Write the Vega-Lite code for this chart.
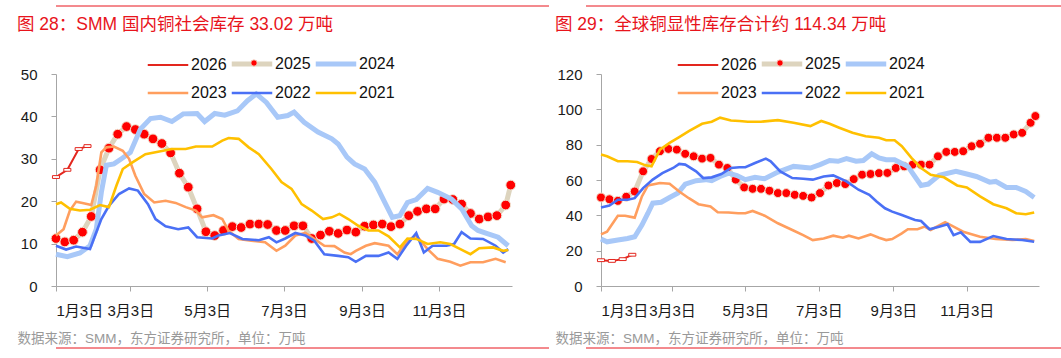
{
  "$schema": "https://vega.github.io/schema/vega-lite/v6.json",
  "background": "white",
  "padding": {"left": 17, "top": 5, "right": 0, "bottom": 0},
  "config": {
    "view": {"stroke": null},
    "font": "Liberation Sans, Noto Sans CJK SC"
  },
  "datasets": {
    "L": [
      {"s":"2026","d":0,"v":25.7},{"s":"2026","d":9,"v":27.4},{"s":"2026","d":18,"v":32.3},{"s":"2026","d":25,"v":33.0},
      {"s":"2025","d":0,"v":11.2},{"s":"2025","d":7,"v":10.4},{"s":"2025","d":14,"v":10.8},{"s":"2025","d":21,"v":12.7},{"s":"2025","d":28,"v":16.4},{"s":"2025","d":35,"v":27.4},{"s":"2025","d":42,"v":32.5},{"s":"2025","d":49,"v":35.8},{"s":"2025","d":56,"v":37.6},{"s":"2025","d":63,"v":36.9},
      {"s":"2025","d":70,"v":35.8},{"s":"2025","d":77,"v":34.7},{"s":"2025","d":84,"v":33.6},{"s":"2025","d":91,"v":31.4},{"s":"2025","d":98,"v":26.6},{"s":"2025","d":105,"v":23.3},{"s":"2025","d":112,"v":18.2},{"s":"2025","d":119,"v":12.8},{"s":"2025","d":126,"v":11.9},{"s":"2025","d":133,"v":13.1},
      {"s":"2025","d":140,"v":14.0},{"s":"2025","d":147,"v":13.8},{"s":"2025","d":154,"v":14.6},{"s":"2025","d":161,"v":14.6},{"s":"2025","d":168,"v":14.5},{"s":"2025","d":175,"v":13.1},{"s":"2025","d":182,"v":13.1},{"s":"2025","d":189,"v":14.2},{"s":"2025","d":196,"v":14.2},{"s":"2025","d":203,"v":11.2},
      {"s":"2025","d":210,"v":12.0},{"s":"2025","d":217,"v":12.9},{"s":"2025","d":224,"v":12.4},{"s":"2025","d":231,"v":13.2},{"s":"2025","d":238,"v":12.7},{"s":"2025","d":245,"v":14.1},{"s":"2025","d":252,"v":14.4},{"s":"2025","d":259,"v":14.6},{"s":"2025","d":266,"v":14.0},{"s":"2025","d":273,"v":14.6},
      {"s":"2025","d":280,"v":16.6},{"s":"2025","d":287,"v":17.6},{"s":"2025","d":294,"v":18.2},{"s":"2025","d":301,"v":18.2},{"s":"2025","d":308,"v":20.5},{"s":"2025","d":315,"v":20.4},{"s":"2025","d":322,"v":19.3},{"s":"2025","d":329,"v":17.1},{"s":"2025","d":336,"v":15.8},{"s":"2025","d":343,"v":16.3},
      {"s":"2025","d":350,"v":16.6},{"s":"2025","d":357,"v":19.1},{"s":"2025","d":361,"v":23.8},
      {"s":"2024","d":0,"v":7.5},{"s":"2024","d":9,"v":6.9},{"s":"2024","d":19,"v":7.8},{"s":"2024","d":27,"v":9.5},{"s":"2024","d":32,"v":13.4},{"s":"2024","d":36,"v":22.1},{"s":"2024","d":40,"v":28.5},{"s":"2024","d":46,"v":28.8},{"s":"2024","d":52,"v":30.0},{"s":"2024","d":59,"v":31.5},
      {"s":"2024","d":67,"v":37.0},{"s":"2024","d":75,"v":39.5},{"s":"2024","d":83,"v":39.8},{"s":"2024","d":92,"v":38.8},{"s":"2024","d":101,"v":40.6},{"s":"2024","d":112,"v":40.7},{"s":"2024","d":118,"v":38.8},{"s":"2024","d":126,"v":40.7},{"s":"2024","d":134,"v":40.3},{"s":"2024","d":144,"v":41.3},
      {"s":"2024","d":152,"v":43.7},{"s":"2024","d":159,"v":45.3},{"s":"2024","d":167,"v":43.3},{"s":"2024","d":176,"v":39.8},{"s":"2024","d":184,"v":40.2},{"s":"2024","d":189,"v":41.0},{"s":"2024","d":197,"v":38.6},{"s":"2024","d":208,"v":36.3},{"s":"2024","d":219,"v":34.7},{"s":"2024","d":224,"v":33.5},
      {"s":"2024","d":231,"v":30.4},{"s":"2024","d":237,"v":28.8},{"s":"2024","d":245,"v":27.6},{"s":"2024","d":253,"v":24.5},{"s":"2024","d":261,"v":19.7},{"s":"2024","d":267,"v":16.2},{"s":"2024","d":273,"v":16.6},{"s":"2024","d":279,"v":19.7},{"s":"2024","d":286,"v":20.4},{"s":"2024","d":295,"v":23.0},
      {"s":"2024","d":303,"v":22.1},{"s":"2024","d":314,"v":20.5},{"s":"2024","d":322,"v":18.2},{"s":"2024","d":330,"v":14.2},{"s":"2024","d":335,"v":13.1},{"s":"2024","d":343,"v":12.3},{"s":"2024","d":351,"v":11.5},{"s":"2024","d":359,"v":9.5},
      {"s":"2023","d":0,"v":11.9},{"s":"2023","d":6,"v":13.4},{"s":"2023","d":11,"v":17.8},{"s":"2023","d":16,"v":19.9},{"s":"2023","d":21,"v":19.6},{"s":"2023","d":28,"v":19.1},{"s":"2023","d":32,"v":23.7},{"s":"2023","d":36,"v":31.5},{"s":"2023","d":40,"v":32.7},{"s":"2023","d":46,"v":32.9},
      {"s":"2023","d":53,"v":31.9},{"s":"2023","d":58,"v":30.0},{"s":"2023","d":63,"v":26.0},{"s":"2023","d":70,"v":21.7},{"s":"2023","d":78,"v":19.7},{"s":"2023","d":87,"v":20.1},{"s":"2023","d":95,"v":19.6},{"s":"2023","d":103,"v":18.6},{"s":"2023","d":111,"v":17.8},{"s":"2023","d":116,"v":16.2},
      {"s":"2023","d":125,"v":16.7},{"s":"2023","d":132,"v":15.8},{"s":"2023","d":137,"v":13.0},{"s":"2023","d":145,"v":11.1},{"s":"2023","d":155,"v":10.7},{"s":"2023","d":166,"v":10.3},{"s":"2023","d":175,"v":8.3},{"s":"2023","d":182,"v":9.5},{"s":"2023","d":190,"v":11.9},{"s":"2023","d":198,"v":12.5},
      {"s":"2023","d":205,"v":11.1},{"s":"2023","d":213,"v":9.5},{"s":"2023","d":221,"v":9.4},{"s":"2023","d":229,"v":7.9},{"s":"2023","d":234,"v":7.5},{"s":"2023","d":238,"v":8.3},{"s":"2023","d":246,"v":9.5},{"s":"2023","d":253,"v":10.1},{"s":"2023","d":264,"v":9.5},{"s":"2023","d":271,"v":7.5},
      {"s":"2023","d":279,"v":10.7},{"s":"2023","d":286,"v":11.9},{"s":"2023","d":295,"v":8.7},{"s":"2023","d":303,"v":6.4},{"s":"2023","d":313,"v":5.7},{"s":"2023","d":321,"v":4.8},{"s":"2023","d":329,"v":5.6},{"s":"2023","d":339,"v":5.6},{"s":"2023","d":349,"v":6.4},{"s":"2023","d":357,"v":5.6},
      {"s":"2022","d":0,"v":9.5},{"s":"2022","d":8,"v":8.6},{"s":"2022","d":16,"v":9.3},{"s":"2022","d":27,"v":8.7},{"s":"2022","d":31,"v":11.9},{"s":"2022","d":36,"v":15.8},{"s":"2022","d":42,"v":18.9},{"s":"2022","d":50,"v":21.7},{"s":"2022","d":58,"v":23.0},{"s":"2022","d":65,"v":22.5},
      {"s":"2022","d":73,"v":19.3},{"s":"2022","d":79,"v":15.8},{"s":"2022","d":87,"v":14.1},{"s":"2022","d":97,"v":13.4},{"s":"2022","d":105,"v":13.8},{"s":"2022","d":112,"v":11.5},{"s":"2022","d":124,"v":11.2},{"s":"2022","d":129,"v":11.9},{"s":"2022","d":138,"v":12.5},{"s":"2022","d":148,"v":11.1},
      {"s":"2022","d":161,"v":10.8},{"s":"2022","d":169,"v":11.5},{"s":"2022","d":175,"v":10.3},{"s":"2022","d":182,"v":11.2},{"s":"2022","d":190,"v":12.5},{"s":"2022","d":198,"v":11.9},{"s":"2022","d":205,"v":10.7},{"s":"2022","d":213,"v":7.5},{"s":"2022","d":224,"v":7.1},{"s":"2022","d":232,"v":6.8},
      {"s":"2022","d":238,"v":5.7},{"s":"2022","d":246,"v":7.1},{"s":"2022","d":256,"v":7.1},{"s":"2022","d":264,"v":7.9},{"s":"2022","d":271,"v":6.4},{"s":"2022","d":278,"v":9.5},{"s":"2022","d":286,"v":12.5},{"s":"2022","d":292,"v":7.9},{"s":"2022","d":299,"v":9.5},{"s":"2022","d":310,"v":9.5},
      {"s":"2022","d":316,"v":9.9},{"s":"2022","d":322,"v":12.7},{"s":"2022","d":329,"v":11.2},{"s":"2022","d":339,"v":11.1},{"s":"2022","d":349,"v":9.5},{"s":"2022","d":355,"v":7.9},{"s":"2022","d":359,"v":8.7},
      {"s":"2021","d":0,"v":19.3},{"s":"2021","d":4,"v":19.7},{"s":"2021","d":11,"v":18.2},{"s":"2021","d":19,"v":17.8},{"s":"2021","d":27,"v":18.0},{"s":"2021","d":35,"v":19.1},{"s":"2021","d":42,"v":18.6},{"s":"2021","d":48,"v":23.7},{"s":"2021","d":53,"v":27.6},{"s":"2021","d":61,"v":29.2},
      {"s":"2021","d":71,"v":31.1},{"s":"2021","d":82,"v":31.7},{"s":"2021","d":92,"v":32.3},{"s":"2021","d":103,"v":32.3},{"s":"2021","d":111,"v":32.9},{"s":"2021","d":124,"v":32.9},{"s":"2021","d":132,"v":34.3},{"s":"2021","d":137,"v":34.9},{"s":"2021","d":145,"v":34.7},{"s":"2021","d":153,"v":32.7},
      {"s":"2021","d":161,"v":31.1},{"s":"2021","d":171,"v":27.6},{"s":"2021","d":179,"v":24.5},{"s":"2021","d":187,"v":22.9},{"s":"2021","d":195,"v":19.3},{"s":"2021","d":203,"v":17.8},{"s":"2021","d":212,"v":15.8},{"s":"2021","d":219,"v":16.2},{"s":"2021","d":225,"v":17.0},{"s":"2021","d":232,"v":15.8},
      {"s":"2021","d":240,"v":14.2},{"s":"2021","d":248,"v":13.1},{"s":"2021","d":256,"v":13.1},{"s":"2021","d":264,"v":11.7},{"s":"2021","d":273,"v":9.1},{"s":"2021","d":279,"v":11.2},{"s":"2021","d":286,"v":11.1},{"s":"2021","d":295,"v":9.9},{"s":"2021","d":305,"v":10.3},{"s":"2021","d":313,"v":9.9},
      {"s":"2021","d":321,"v":8.7},{"s":"2021","d":329,"v":7.5},{"s":"2021","d":336,"v":8.9},{"s":"2021","d":347,"v":9.1},{"s":"2021","d":355,"v":8.3},{"s":"2021","d":359,"v":8.5}
    ],
    "R": [
      {"s":"2026","d":0,"v":14.6},{"s":"2026","d":9,"v":14.2},{"s":"2026","d":18,"v":15.2},{"s":"2026","d":26,"v":17.7},
      {"s":"2025","d":0,"v":50.1},{"s":"2025","d":7,"v":49.1},{"s":"2025","d":14,"v":48.2},{"s":"2025","d":21,"v":50.5},{"s":"2025","d":28,"v":53.5},{"s":"2025","d":35,"v":64.9},{"s":"2025","d":42,"v":71.9},{"s":"2025","d":49,"v":76.3},{"s":"2025","d":56,"v":77.6},{"s":"2025","d":63,"v":77.2},
      {"s":"2025","d":70,"v":74.8},{"s":"2025","d":77,"v":73.4},{"s":"2025","d":84,"v":72.1},{"s":"2025","d":91,"v":72.5},{"s":"2025","d":98,"v":68.7},{"s":"2025","d":105,"v":66.8},{"s":"2025","d":112,"v":60.2},{"s":"2025","d":119,"v":55.8},{"s":"2025","d":126,"v":55.0},{"s":"2025","d":133,"v":55.0},
      {"s":"2025","d":140,"v":53.9},{"s":"2025","d":147,"v":52.6},{"s":"2025","d":154,"v":52.6},{"s":"2025","d":161,"v":51.6},{"s":"2025","d":168,"v":51.0},{"s":"2025","d":175,"v":50.1},{"s":"2025","d":182,"v":52.6},{"s":"2025","d":189,"v":56.9},{"s":"2025","d":196,"v":58.3},{"s":"2025","d":203,"v":57.7},
      {"s":"2025","d":210,"v":60.5},{"s":"2025","d":217,"v":63.0},{"s":"2025","d":224,"v":63.4},{"s":"2025","d":231,"v":63.9},{"s":"2025","d":238,"v":64.0},{"s":"2025","d":245,"v":66.8},{"s":"2025","d":252,"v":67.7},{"s":"2025","d":259,"v":68.7},{"s":"2025","d":266,"v":68.7},{"s":"2025","d":273,"v":68.7},
      {"s":"2025","d":280,"v":73.4},{"s":"2025","d":287,"v":75.9},{"s":"2025","d":294,"v":75.9},{"s":"2025","d":301,"v":76.3},{"s":"2025","d":308,"v":79.1},{"s":"2025","d":315,"v":80.5},{"s":"2025","d":322,"v":83.9},{"s":"2025","d":329,"v":83.9},{"s":"2025","d":336,"v":83.9},{"s":"2025","d":343,"v":85.8},
      {"s":"2025","d":350,"v":86.7},{"s":"2025","d":357,"v":92.4},{"s":"2025","d":361,"v":96.2},
      {"s":"2024","d":0,"v":26.6},{"s":"2024","d":5,"v":25.0},{"s":"2024","d":14,"v":26.0},{"s":"2024","d":22,"v":26.9},{"s":"2024","d":28,"v":27.9},{"s":"2024","d":34,"v":34.5},{"s":"2024","d":39,"v":41.2},{"s":"2024","d":43,"v":46.9},{"s":"2024","d":50,"v":47.4},{"s":"2024","d":57,"v":50.1},
      {"s":"2024","d":64,"v":52.6},{"s":"2024","d":70,"v":57.7},{"s":"2024","d":79,"v":59.6},{"s":"2024","d":87,"v":60.2},{"s":"2024","d":92,"v":59.6},{"s":"2024","d":99,"v":62.0},{"s":"2024","d":106,"v":63.9},{"s":"2024","d":113,"v":62.5},{"s":"2024","d":120,"v":60.2},{"s":"2024","d":128,"v":61.5},
      {"s":"2024","d":136,"v":60.7},{"s":"2024","d":147,"v":64.5},{"s":"2024","d":160,"v":67.7},{"s":"2024","d":174,"v":66.8},{"s":"2024","d":182,"v":68.7},{"s":"2024","d":190,"v":71.0},{"s":"2024","d":197,"v":70.6},{"s":"2024","d":204,"v":72.1},{"s":"2024","d":212,"v":70.6},{"s":"2024","d":218,"v":71.0},
      {"s":"2024","d":225,"v":74.8},{"s":"2024","d":231,"v":72.5},{"s":"2024","d":237,"v":71.5},{"s":"2024","d":244,"v":71.5},{"s":"2024","d":255,"v":67.7},{"s":"2024","d":266,"v":56.9},{"s":"2024","d":272,"v":57.7},{"s":"2024","d":281,"v":62.6},{"s":"2024","d":295,"v":64.9},{"s":"2024","d":304,"v":63.4},
      {"s":"2024","d":312,"v":62.0},{"s":"2024","d":323,"v":58.8},{"s":"2024","d":328,"v":59.2},{"s":"2024","d":337,"v":55.8},{"s":"2024","d":345,"v":55.8},{"s":"2024","d":353,"v":53.5},{"s":"2024","d":360,"v":50.1},
      {"s":"2023","d":0,"v":29.2},{"s":"2023","d":5,"v":30.7},{"s":"2023","d":14,"v":39.8},{"s":"2023","d":20,"v":39.8},{"s":"2023","d":28,"v":38.7},{"s":"2023","d":34,"v":50.7},{"s":"2023","d":39,"v":56.9},{"s":"2023","d":49,"v":58.3},{"s":"2023","d":57,"v":57.9},{"s":"2023","d":65,"v":53.5},
      {"s":"2023","d":73,"v":49.7},{"s":"2023","d":81,"v":46.3},{"s":"2023","d":91,"v":45.0},{"s":"2023","d":97,"v":41.7},{"s":"2023","d":106,"v":41.6},{"s":"2023","d":114,"v":41.2},{"s":"2023","d":120,"v":41.2},{"s":"2023","d":126,"v":42.5},{"s":"2023","d":136,"v":39.8},{"s":"2023","d":147,"v":35.5},
      {"s":"2023","d":159,"v":31.7},{"s":"2023","d":168,"v":28.8},{"s":"2023","d":176,"v":26.0},{"s":"2023","d":185,"v":26.9},{"s":"2023","d":193,"v":28.5},{"s":"2023","d":201,"v":27.3},{"s":"2023","d":206,"v":28.5},{"s":"2023","d":214,"v":26.9},{"s":"2023","d":224,"v":29.2},{"s":"2023","d":231,"v":27.3},
      {"s":"2023","d":237,"v":26.0},{"s":"2023","d":242,"v":26.6},{"s":"2023","d":250,"v":29.8},{"s":"2023","d":255,"v":32.1},{"s":"2023","d":263,"v":32.1},{"s":"2023","d":269,"v":33.6},{"s":"2023","d":274,"v":31.7},{"s":"2023","d":286,"v":36.1},{"s":"2023","d":293,"v":33.6},{"s":"2023","d":301,"v":30.7},
      {"s":"2023","d":315,"v":27.9},{"s":"2023","d":328,"v":26.6},{"s":"2023","d":342,"v":26.0},{"s":"2023","d":353,"v":26.6},{"s":"2023","d":360,"v":25.4},
      {"s":"2022","d":0,"v":44.4},{"s":"2022","d":7,"v":45.5},{"s":"2022","d":14,"v":48.8},{"s":"2022","d":22,"v":48.8},{"s":"2022","d":28,"v":49.7},{"s":"2022","d":35,"v":55.4},{"s":"2022","d":43,"v":60.2},{"s":"2022","d":51,"v":63.9},{"s":"2022","d":60,"v":66.8},{"s":"2022","d":65,"v":69.1},
      {"s":"2022","d":70,"v":68.7},{"s":"2022","d":79,"v":64.9},{"s":"2022","d":85,"v":61.1},{"s":"2022","d":92,"v":61.5},{"s":"2022","d":100,"v":63.4},{"s":"2022","d":108,"v":66.8},{"s":"2022","d":115,"v":67.2},{"s":"2022","d":120,"v":67.2},{"s":"2022","d":128,"v":69.6},{"s":"2022","d":137,"v":72.1},
      {"s":"2022","d":141,"v":70.6},{"s":"2022","d":149,"v":64.9},{"s":"2022","d":159,"v":61.1},{"s":"2022","d":168,"v":60.7},{"s":"2022","d":176,"v":60.2},{"s":"2022","d":185,"v":62.0},{"s":"2022","d":193,"v":62.6},{"s":"2022","d":204,"v":59.2},{"s":"2022","d":214,"v":54.5},{"s":"2022","d":223,"v":51.6},
      {"s":"2022","d":229,"v":47.8},{"s":"2022","d":236,"v":44.0},{"s":"2022","d":242,"v":42.1},{"s":"2022","d":250,"v":40.2},{"s":"2022","d":261,"v":37.4},{"s":"2022","d":266,"v":36.8},{"s":"2022","d":273,"v":32.1},{"s":"2022","d":281,"v":33.6},{"s":"2022","d":288,"v":34.9},{"s":"2022","d":293,"v":28.8},
      {"s":"2022","d":299,"v":30.4},{"s":"2022","d":307,"v":25.0},{"s":"2022","d":315,"v":25.0},{"s":"2022","d":326,"v":28.3},{"s":"2022","d":337,"v":26.6},{"s":"2022","d":350,"v":26.0},{"s":"2022","d":360,"v":25.0},
      {"s":"2021","d":0,"v":74.4},{"s":"2021","d":5,"v":73.4},{"s":"2021","d":14,"v":70.6},{"s":"2021","d":22,"v":70.6},{"s":"2021","d":30,"v":70.2},{"s":"2021","d":37,"v":68.3},{"s":"2021","d":42,"v":67.7},{"s":"2021","d":49,"v":77.2},{"s":"2021","d":57,"v":81.0},{"s":"2021","d":65,"v":84.3},
      {"s":"2021","d":73,"v":87.7},{"s":"2021","d":84,"v":91.8},{"s":"2021","d":92,"v":93.0},{"s":"2021","d":99,"v":95.3},{"s":"2021","d":108,"v":93.7},{"s":"2021","d":115,"v":93.4},{"s":"2021","d":122,"v":93.0},{"s":"2021","d":133,"v":93.0},{"s":"2021","d":147,"v":93.9},{"s":"2021","d":160,"v":92.4},
      {"s":"2021","d":174,"v":90.5},{"s":"2021","d":183,"v":93.4},{"s":"2021","d":190,"v":91.8},{"s":"2021","d":198,"v":89.6},{"s":"2021","d":209,"v":86.7},{"s":"2021","d":220,"v":84.8},{"s":"2021","d":231,"v":83.9},{"s":"2021","d":237,"v":82.5},{"s":"2021","d":244,"v":82.5},{"s":"2021","d":250,"v":79.1},
      {"s":"2021","d":258,"v":72.5},{"s":"2021","d":266,"v":66.8},{"s":"2021","d":274,"v":63.0},{"s":"2021","d":285,"v":61.5},{"s":"2021","d":296,"v":56.9},{"s":"2021","d":304,"v":55.8},{"s":"2021","d":315,"v":50.7},{"s":"2021","d":326,"v":46.3},{"s":"2021","d":337,"v":44.0},{"s":"2021","d":345,"v":41.2},
      {"s":"2021","d":353,"v":40.6},{"s":"2021","d":360,"v":41.6}
    ]
  },
  "vconcat": [
    {
      "hconcat": [
        {"width": 493, "height": 7, "data": {"values": [{}]}, "mark": {"type": "rule", "color": "#E8141C", "strokeWidth": 1}, "encoding": {"y": {"datum": 1, "type": "quantitative", "scale": {"domain": [0, 1]}, "axis": null}}},
        {"width": 502, "height": 7, "data": {"values": [{}]}, "mark": {"type": "rule", "color": "#E8141C", "strokeWidth": 1}, "encoding": {"y": {"datum": 1, "type": "quantitative", "scale": {"domain": [0, 1]}, "axis": null}}}
      ],
      "spacing": 35
    },
    {
      "spacing": 34,
      "resolve": {"scale": {"color": "independent", "fill": "independent"}, "legend": {"color": "independent", "fill": "independent"}},
      "hconcat": [
        {
          "width": 456,
          "height": 212,
          "data": {"name": "L"},
          "title": {"text": "图 28：SMM 国内铜社会库存 33.02 万吨", "anchor": "start", "frame": "group", "dx": -39, "offset": 23, "fontSize": 17.5, "fontWeight": "normal", "color": "#E8141C", "font": "Liberation Sans, Noto Sans CJK SC"},
          "encoding": {
            "x": {"field": "d", "type": "quantitative", "scale": {"domain": [0, 362], "nice": false, "zero": false},
              "axis": {"values": [0, 59, 120, 181, 243, 304], "grid": false, "domainColor": "#A6A6A6", "tickColor": "#A6A6A6", "tickSize": 5, "labelFontSize": 15, "labelColor": "#1A1A1A", "labelPadding": 12,
                "labelExpr": "datum.value == 0 ? '1月3日' : datum.value == 59 ? '3月3日' : datum.value == 120 ? '5月3日' : datum.value == 181 ? '7月3日' : datum.value == 243 ? '9月3日' : '11月3日'",
                "title": "数据来源：SMM，东方证券研究所，单位：万吨", "titleFontSize": 13.5, "titleFontWeight": "normal", "titleColor": "#999999", "titleAnchor": "start", "titleAlign": "left", "titleX": -39, "titlePadding": 13}},
            "y": {"field": "v", "type": "quantitative", "scale": {"domain": [0, 50], "nice": false},
              "axis": {"values": [0, 10, 20, 30, 40, 50], "grid": false, "title": null, "domainColor": "#A6A6A6", "tickColor": "#A6A6A6", "tickSize": 5, "labelFontSize": 15, "labelColor": "#1A1A1A", "labelPadding": 14}},
            "color": {"field": "s", "type": "nominal",
              "scale": {"domain": ["2026", "2025", "2024", "2023", "2022", "2021"], "range": ["#E3261E", "#DDD4BE", "#A8C8F8", "#FF9E5E", "#4A70F5", "#FFC000"]},
              "legend": {"title": null, "orient": "none", "legendX": 93, "legendY": -18, "direction": "horizontal", "columns": 3, "symbolType": "stroke", "symbolSize": 1640, "symbolOffset": 11, "labelFontSize": 16, "labelColor": "#111111", "labelOffset": 15, "columnPadding": -6, "rowPadding": 11, "padding": 0,
                "encode": {"symbols": {"update": {"strokeWidth": {"signal": "datum.value == '2025' || datum.value == '2024' ? 5 : (datum.value == '2026' ? 2 : 2.6)"}}}}}}
          },
          "layer": [
            {"transform": [{"filter": "datum.s == '2026'"}], "mark": {"type": "line", "strokeWidth": 2}},
            {"transform": [{"filter": "datum.s == '2026'"}], "mark": {"type": "point", "shape": "M-1,-0.4H1V0.4H-1Z", "size": 50, "filled": true, "stroke": "#E3261E", "strokeWidth": 1, "opacity": 1}, "encoding": {"color": {"value": "#FFFFFF"}}},
            {"transform": [{"filter": "datum.s == '2025'"}], "mark": {"type": "line", "strokeWidth": 5}},
            {"transform": [{"filter": "datum.s == '2025'"}], "mark": {"type": "point", "shape": "circle", "size": 95, "filled": true, "stroke": "#F2E2CF", "strokeWidth": 1, "opacity": 1},
              "encoding": {"fill": {"field": "s", "type": "nominal", "scale": {"domain": ["2025"], "range": ["#FF0000"]},
                "legend": {"title": null, "orient": "none", "legendX": 194, "legendY": -15, "symbolType": "circle", "symbolSize": 40, "symbolStrokeColor": "#F2E2CF", "symbolStrokeWidth": 0.8, "labelFontSize": 1, "labelOpacity": 0, "labelOffset": 0, "padding": 0}}}},
            {"transform": [{"filter": "datum.s == '2024'"}], "mark": {"type": "line", "strokeWidth": 5}},
            {"transform": [{"filter": "datum.s == '2023' || datum.s == '2022' || datum.s == '2021'"}], "mark": {"type": "line", "strokeWidth": 2.6}}
          ]
        },
        {
          "width": 438,
          "height": 212,
          "data": {"name": "R"},
          "title": {"text": "图 29：全球铜显性库存合计约 114.34 万吨", "anchor": "start", "frame": "group", "dx": -46, "offset": 23, "fontSize": 17.5, "fontWeight": "normal", "color": "#E8141C", "font": "Liberation Sans, Noto Sans CJK SC"},
          "encoding": {
            "x": {"field": "d", "type": "quantitative", "scale": {"domain": [0, 364], "nice": false, "zero": false},
              "axis": {"values": [0, 59, 120, 181, 243, 304], "grid": false, "domainColor": "#A6A6A6", "tickColor": "#A6A6A6", "tickSize": 5, "labelFontSize": 15, "labelColor": "#1A1A1A", "labelPadding": 12,
                "labelExpr": "datum.value == 0 ? '1月3日' : datum.value == 59 ? '3月3日' : datum.value == 120 ? '5月3日' : datum.value == 181 ? '7月3日' : datum.value == 243 ? '9月3日' : '11月3日'",
                "title": "数据来源：SMM，东方证券研究所，单位：万吨", "titleFontSize": 13.5, "titleFontWeight": "normal", "titleColor": "#999999", "titleAnchor": "start", "titleAlign": "left", "titleX": -46, "titlePadding": 13}},
            "y": {"field": "v", "type": "quantitative", "scale": {"domain": [0, 120], "nice": false},
              "axis": {"values": [0, 20, 40, 60, 80, 100, 120], "grid": false, "title": null, "domainColor": "#A6A6A6", "tickColor": "#A6A6A6", "tickSize": 5, "labelFontSize": 15, "labelColor": "#1A1A1A", "labelPadding": 14}},
            "color": {"field": "s", "type": "nominal",
              "scale": {"domain": ["2026", "2025", "2024", "2023", "2022", "2021"], "range": ["#E3261E", "#DDD4BE", "#A8C8F8", "#FF9E5E", "#4A70F5", "#FFC000"]},
              "legend": {"title": null, "orient": "none", "legendX": 78, "legendY": -18, "direction": "horizontal", "columns": 3, "symbolType": "stroke", "symbolSize": 1640, "symbolOffset": 11, "labelFontSize": 16, "labelColor": "#111111", "labelOffset": 15, "columnPadding": -6, "rowPadding": 11, "padding": 0,
                "encode": {"symbols": {"update": {"strokeWidth": {"signal": "datum.value == '2025' || datum.value == '2024' ? 5 : (datum.value == '2026' ? 2 : 2.6)"}}}}}}
          },
          "layer": [
            {"transform": [{"filter": "datum.s == '2026'"}], "mark": {"type": "line", "strokeWidth": 2}},
            {"transform": [{"filter": "datum.s == '2026'"}], "mark": {"type": "point", "shape": "M-1,-0.4H1V0.4H-1Z", "size": 50, "filled": true, "stroke": "#E3261E", "strokeWidth": 1, "opacity": 1}, "encoding": {"color": {"value": "#FFFFFF"}}},
            {"transform": [{"filter": "datum.s == '2025'"}], "mark": {"type": "line", "strokeWidth": 5}},
            {"transform": [{"filter": "datum.s == '2025'"}], "mark": {"type": "point", "shape": "circle", "size": 80, "filled": true, "stroke": "#F2E2CF", "strokeWidth": 1, "opacity": 1},
              "encoding": {"fill": {"field": "s", "type": "nominal", "scale": {"domain": ["2025"], "range": ["#FF0000"]},
                "legend": {"title": null, "orient": "none", "legendX": 175, "legendY": -15, "symbolType": "circle", "symbolSize": 40, "symbolStrokeColor": "#F2E2CF", "symbolStrokeWidth": 0.8, "labelFontSize": 1, "labelOpacity": 0, "labelOffset": 0, "padding": 0}}}},
            {"transform": [{"filter": "datum.s == '2024'"}], "mark": {"type": "line", "strokeWidth": 5}},
            {"transform": [{"filter": "datum.s == '2023' || datum.s == '2022' || datum.s == '2021'"}], "mark": {"type": "line", "strokeWidth": 2.6}}
          ]
        }
      ]
    },
    {
      "hconcat": [
        {"width": 493, "height": 1, "data": {"values": [{}]}, "mark": {"type": "rule", "color": "#E8141C", "strokeWidth": 1}, "encoding": {"y": {"datum": 1, "type": "quantitative", "scale": {"domain": [0, 1]}, "axis": null}}},
        {"width": 502, "height": 1, "data": {"values": [{}]}, "mark": {"type": "rule", "color": "#E8141C", "strokeWidth": 1}, "encoding": {"y": {"datum": 1, "type": "quantitative", "scale": {"domain": [0, 1]}, "axis": null}}}
      ],
      "spacing": 35
    }
  ],
  "spacing": 2
}
